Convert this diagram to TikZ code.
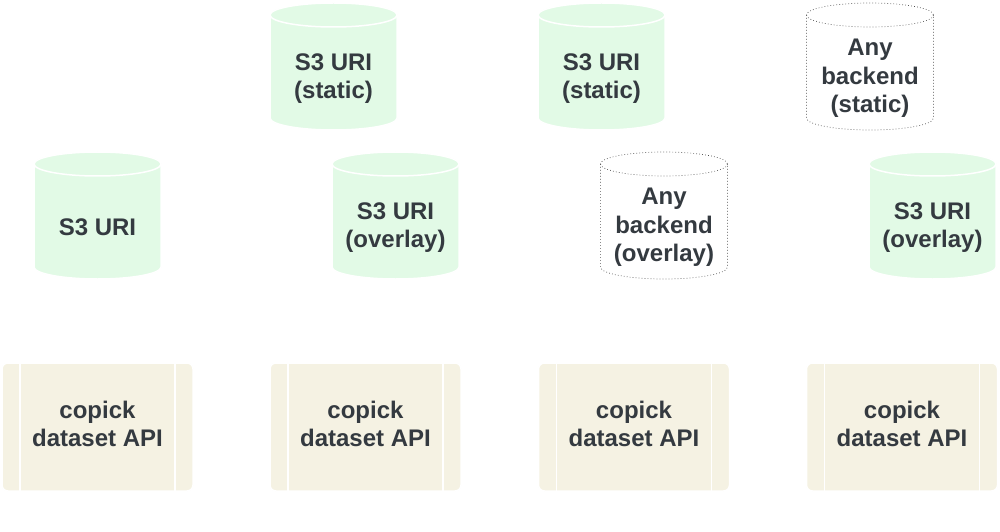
\documentclass[tikz,border=0pt]{standalone}
\usepackage{fontspec}
\setmainfont{Liberation Sans}
\usepackage{tikz}
\definecolor{storegreen}{RGB}{226,250,230}
\definecolor{apicream}{RGB}{245,242,227}
\definecolor{labelgray}{RGB}{52,58,64}
\tikzset{
    green store/.style={fill=storegreen, draw=white, line width=1.5pt}, % filled store
    dotted store/.style={fill=white, draw=black!70, line width=0.7pt, dash pattern=on 0.7pt off 2.3pt}, % optional backend
    store label/.style={align=center, font=\fontsize{24}{28.5}\selectfont\bfseries, text=labelgray},
    api box/.style={rectangle, rounded corners=6pt, fill=apicream, draw=white, line width=1.5pt,
        minimum width=191pt, minimum height=128pt,
        path picture={
            \draw[white, line width=1.5pt] ([xshift=18pt]path picture bounding box.north west) -- ([xshift=18pt]path picture bounding box.south west);
            \draw[white, line width=1.5pt] ([xshift=-18pt]path picture bounding box.north east) -- ([xshift=-18pt]path picture bounding box.south east);
        }}
}
% #1 name, #2 centre, #3 style, #4 label
\newcommand{\datastore}[4]{%
    \begin{scope}[shift={(#2)}]
        \path[#3] (-63.5,51.5) -- (-63.5,-51.5) arc[start angle=180, end angle=360, x radius=63.5, y radius=12]
            -- (63.5,51.5) arc[start angle=0, end angle=180, x radius=63.5, y radius=12] -- cycle;
        \path[#3, fill=none] (-63.5,51.5) arc[start angle=180, end angle=360, x radius=63.5, y radius=12];
        \node[store label] (#1) at (0,-12) {#4};
    \end{scope}}

\begin{document}
\begin{tikzpicture}[x=1pt, y=1pt]
    \useasboundingbox (0,0) rectangle (1000,531);

    % static stores
    \datastore{static1}{333.5,464.5}{green store}{S3 URI\\(static)}
    \datastore{static2}{601.5,464.5}{green store}{S3 URI\\(static)}
    \datastore{static3}{870,464.5}{dotted store}{Any\\backend\\(static)}

    % overlay stores
    \datastore{plain}{97.5,315.5}{green store}{S3 URI}
    \datastore{overlay1}{395.5,315.5}{green store}{S3 URI\\(overlay)}
    \datastore{overlay2}{664,315.5}{dotted store}{Any\\backend\\(overlay)}
    \datastore{overlay3}{932.5,315.5}{green store}{S3 URI\\(overlay)}

    % dataset API
    \foreach \x/\n in {97.5/1, 365.5/2, 634/3, 902/4} {
        \node[api box, label={[store label, yshift=3pt]center:copick\\dataset API}] (api\n) at (\x,104) {};
    }
\end{tikzpicture}
\end{document}
